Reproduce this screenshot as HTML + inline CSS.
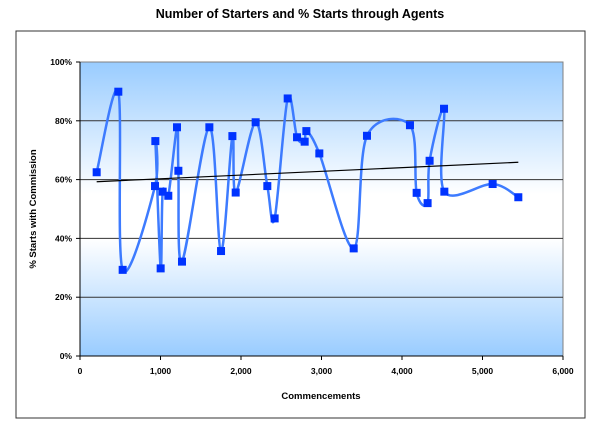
<!DOCTYPE html>
<html><head><meta charset="utf-8"><style>
body{margin:0;background:#fff;}
svg{display:block;font-family:"Liberation Sans",Arial,sans-serif;}
</style></head><body>
<svg id="chart" width="600" height="430">
<defs>
<linearGradient id="bg" x1="0" y1="0" x2="0" y2="1">
<stop offset="0" stop-color="#99ccff"/>
<stop offset="0.45" stop-color="#ffffff"/>
<stop offset="0.6" stop-color="#ffffff"/>
<stop offset="1" stop-color="#99ccff"/>
</linearGradient>
</defs>
<text x="300" y="18" text-anchor="middle" font-size="12.5" font-weight="bold">Number of Starters and % Starts through Agents</text>
<rect x="16" y="31" width="569" height="387" fill="none" stroke="#333" stroke-width="1"/>
<rect x="80" y="62" width="483" height="294" fill="url(#bg)" stroke="#808080"/>
<g id="grid"></g><g id="axes"></g><g id="series"></g>
<text x="321" y="399" text-anchor="middle" font-size="9.5" font-weight="bold">Commencements</text>
<text transform="translate(36,209) rotate(-90)" text-anchor="middle" font-size="9.5" font-weight="bold">% Starts with Commission</text>
</svg>
<script>
const xs=[207,476,530,932,936,1002,1027,1097,1205,1222,1267,1607,1752,1893,1934,2182,2327,2418,2580,2696,2791,2812,2973,3400,3565,4099,4182,4318,4343,4522,4526,5126,5445];
const ys=[62.5,89.9,29.3,57.8,73.1,29.8,55.9,54.5,77.8,63,32.1,77.8,35.7,74.8,55.6,79.5,57.8,46.8,87.6,74.4,72.9,76.5,68.9,36.6,74.9,78.5,55.5,52,66.4,84.1,55.9,58.5,54];
const xTicks=[0,1000,2000,3000,4000,5000,6000];
const xTickLabels=["0","1,000","2,000","3,000","4,000","5,000","6,000"];
const yTicks=[0,20,40,60,80,100];
const yTickLabels=["0%","20%","40%","60%","80%","100%"];
const NS="http://www.w3.org/2000/svg";
const X=v=>80+v/6000*483, Y=v=>356-v/100*294;
function mk(t,a,p){const e=document.createElementNS(NS,t);for(const k in a)e.setAttribute(k,a[k]);p.appendChild(e);return e;}
const grid=document.getElementById('grid'),axes=document.getElementById('axes'),ser=document.getElementById('series');
yTicks.forEach((v,i)=>{
 if(v>0&&v<100){const g=mk('line',{x1:80,x2:563,y1:Y(v),y2:Y(v),stroke:'#333','stroke-width':1},grid);
 
 }
 const tk=mk('line',{x1:76,x2:80,y1:Y(v),y2:Y(v),stroke:'#000'},axes);
 
 
 const t=mk('text',{x:72,y:Y(v)+3,'text-anchor':'end','font-size':8.5,'font-weight':'bold'},axes);
 t.textContent=yTickLabels[i];
 
 
});
xTicks.forEach((v,i)=>{
 const tk=mk('line',{x1:X(v),x2:X(v),y1:356,y2:360,stroke:'#000'},axes);
 
 
 const t=mk('text',{x:X(v),y:374,'text-anchor':'middle','font-size':8.5,'font-weight':'bold'},axes);
 t.textContent=xTickLabels[i];
 
 
});
mk('line',{x1:80,x2:80,y1:62,y2:356,stroke:'#000'},axes);
mk('line',{x1:80,x2:563,y1:356,y2:356,stroke:'#000'},axes);
// smooth line
const P=xs.map((x,i)=>[X(x),Y(ys[i])]);
let d=`M${P[0][0]},${P[0][1]}`;
for(let i=0;i<P.length-1;i++){
 const p0=P[Math.max(0,i-1)],p1=P[i],p2=P[i+1],p3=P[Math.min(P.length-1,i+2)];
 const c1=[p1[0]+(p2[0]-p0[0])/6,p1[1]+(p2[1]-p0[1])/6];
 const c2=[p2[0]-(p3[0]-p1[0])/6,p2[1]-(p3[1]-p1[1])/6];
 d+=` C${c1[0]},${c1[1]} ${c2[0]},${c2[1]} ${p2[0]},${p2[1]}`;
}
const ln=mk('path',{d:d,fill:'none',stroke:'#3d7bff','stroke-width':2.5},ser);


// trend line (least squares)
const n=xs.length,mx=xs.reduce((a,b)=>a+b)/n,my=ys.reduce((a,b)=>a+b)/n;
let sxy=0,sxx=0;xs.forEach((x,i)=>{sxy+=(x-mx)*(ys[i]-my);sxx+=(x-mx)*(x-mx);});
const b=sxy/sxx,a=my-b*mx,xmin=Math.min(...xs),xmax=Math.max(...xs);
const tr=mk('line',{x1:X(xmin),y1:Y(a+b*xmin),x2:X(xmax),y2:Y(a+b*xmax),stroke:'#000','stroke-width':1.2},ser);


P.forEach(p=>{
 const r=mk('rect',{x:p[0]-4,y:p[1]-4,width:8,height:8,fill:'#0033ff'},ser);
 
 
});
</script>
</body></html>
